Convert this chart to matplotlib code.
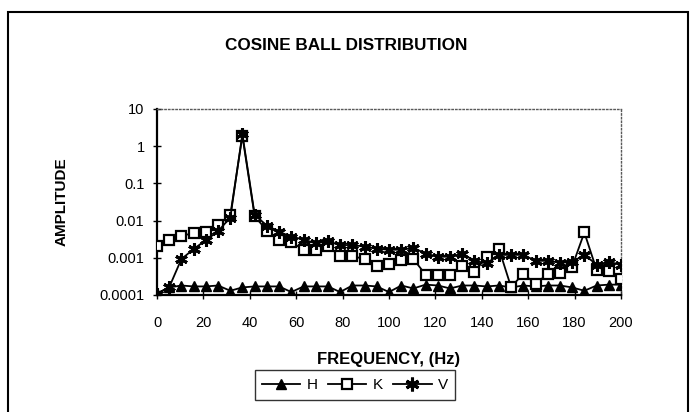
import matplotlib
matplotlib.use("Agg")
import matplotlib.pyplot as plt
from matplotlib.patches import Rectangle
from matplotlib.ticker import NullLocator

plt.rcParams["font.family"] = ["Liberation Sans", "DejaVu Sans"]

freq = [0, 5.3, 10.5, 15.8, 21.1, 26.3, 31.6, 36.8, 42.1, 47.4,
        52.6, 57.9, 63.2, 68.4, 73.7, 78.9, 84.2, 89.5, 94.7, 100,
        105.3, 110.5, 115.8, 121.1, 126.3, 131.6, 136.8, 142.1, 147.4, 152.6,
        157.9, 163.2, 168.4, 173.7, 178.9, 184.2, 189.5, 194.7, 200]

amp_h = [1.1e-4, 1.6e-4, 1.8e-4, 1.7e-4, 1.7e-4, 1.8e-4, 1.3e-4, 1.6e-4, 1.7e-4, 1.7e-4,
         1.7e-4, 1.2e-4, 1.7e-4, 1.7e-4, 1.7e-4, 1.2e-4, 1.8e-4, 1.8e-4, 1.7e-4, 1.2e-4,
         1.8e-4, 1.5e-4, 1.9e-4, 1.8e-4, 1.5e-4, 1.8e-4, 1.8e-4, 1.7e-4, 1.8e-4, 1.6e-4,
         1.8e-4, 1.7e-4, 1.8e-4, 1.8e-4, 1.6e-4, 1.3e-4, 1.8e-4, 1.9e-4, 1.9e-4]

amp_k = [2.1e-3, 3.1e-3, 3.9e-3, 4.6e-3, 5.0e-3, 7.6e-3, 0.014, 1.9, 0.013, 5.4e-3,
         3.1e-3, 2.6e-3, 1.66e-3, 1.66e-3, 2.1e-3, 1.1e-3, 1.1e-3, 9.3e-4, 6.0e-4, 6.9e-4,
         8.5e-4, 9.3e-4, 3.5e-4, 3.5e-4, 3.5e-4, 6.0e-4, 4.2e-4, 1.05e-3, 1.75e-3, 1.65e-4,
         3.7e-4, 2.0e-4, 3.7e-4, 3.8e-4, 5.7e-4, 4.8e-3, 4.7e-4, 4.5e-4, 2.7e-4]

amp_v = [1.08e-4, 1.64e-4, 9.2e-4, 1.72e-3, 3.0e-3, 5.2e-3, 0.012, 2.1, 0.0143, 7.3e-3,
         5.0e-3, 3.7e-3, 3.1e-3, 2.45e-3, 2.8e-3, 2.2e-3, 2.2e-3, 2.0e-3, 1.75e-3, 1.65e-3,
         1.65e-3, 1.85e-3, 1.3e-3, 1.07e-3, 1.07e-3, 1.3e-3, 8.3e-4, 7.1e-4, 1.2e-3, 1.2e-3,
         1.2e-3, 8.3e-4, 8.3e-4, 7.4e-4, 7.7e-4, 1.2e-3, 6.6e-4, 7.7e-4, 6.6e-4]

y_ticks = [1e-4, 1e-3, 1e-2, 1e-1, 1, 10]
y_labels = ["0.0001", "0.001", "0.01", "0.1", "1", "10"]
x_ticks = [0, 20, 40, 60, 80, 100, 120, 140, 160, 180, 200]

fig = plt.figure(figsize=(6.92, 4.12), dpi=100)
ax = fig.add_axes([157 / 692, 1 - 295 / 412, 464 / 692, 186 / 412])

ax.plot(freq, amp_h, color="black", lw=1.3, marker="^", ms=7,
        mfc="black", mec="black", label="H", zorder=3)
ax.plot(freq, amp_k, color="black", lw=1.3, marker="s", ms=7,
        mfc="white", mec="black", mew=1.6, label="K", zorder=4)
ax.plot(freq, amp_v, color="black", lw=1.3, marker=(6, 2, 0), ms=9,
        mec="black", mew=2.2, label="V", zorder=5)

ax.set_yscale("log")
ax.set_xlim(0, 200)
ax.set_ylim(1e-4, 10)
ax.set_yticks(y_ticks)
ax.set_yticklabels(y_labels)
ax.yaxis.set_minor_locator(NullLocator())
ax.set_xticks(x_ticks)
ax.tick_params(direction="inout", length=6, width=1, labelsize=10.5)
ax.tick_params(axis="x", pad=12)
ax.tick_params(axis="y", pad=6)

for s in ["left", "bottom"]:
    ax.spines[s].set_linewidth(1.6)
for s in ["top", "right"]:
    ax.spines[s].set_linestyle(":")
    ax.spines[s].set_color("0.35")
    ax.spines[s].set_linewidth(1)

ax.set_xlabel("FREQUENCY, (Hz)", fontsize=12, fontweight="bold", labelpad=16)
ax.set_ylabel("AMPLITUDE", fontsize=11, fontweight="bold", labelpad=22)

fig.text(0.5, 1 - 46 / 412, "COSINE BALL DISTRIBUTION", ha="center", va="center",
         fontsize=12.3, fontweight="bold")

leg = fig.legend(loc="center", bbox_to_anchor=(355 / 692, 1 - 385 / 412), ncol=3,
                 fontsize=11, frameon=True, fancybox=False, edgecolor="black",
                 handlelength=2.5, handletextpad=0.4, columnspacing=0.7,
                 borderpad=0.5, markerscale=1.1)
leg.get_frame().set_linewidth(1)

fig.patches.append(Rectangle((8 / 692, -0.02), 680 / 692, 1.02 - 12 / 412,
                             transform=fig.transFigure, fill=False,
                             edgecolor="black", lw=1.5))

fig.savefig("out.png", dpi=100)
